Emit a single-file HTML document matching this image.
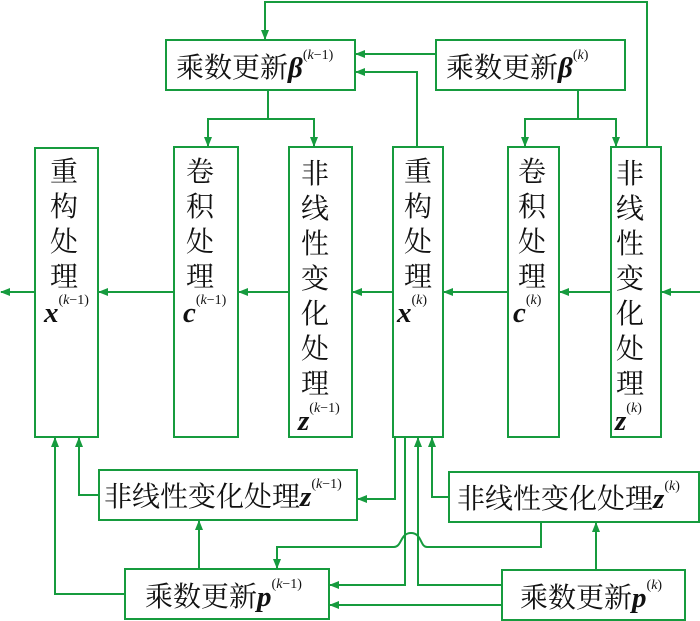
<!DOCTYPE html>
<html><head><meta charset="utf-8"><style>
html,body{margin:0;padding:0;background:#fff;}
svg{display:block;}
.t{font-family:"Liberation Serif","Noto Serif CJK SC","Noto Sans CJK SC",serif;font-size:28px;fill:#111;}
.m{font-family:"Liberation Serif",serif;font-weight:bold;font-style:italic;font-size:29px;fill:#111;}
.s{font-family:"Liberation Serif",serif;font-size:14px;font-weight:normal;font-style:normal;fill:#111;}
</style></head><body>
<svg width="700" height="621" viewBox="0 0 700 621" xmlns="http://www.w3.org/2000/svg">
<defs><marker id="a" markerWidth="10" markerHeight="8" refX="9" refY="4" orient="auto" markerUnits="userSpaceOnUse"><path d="M0,0 L10,4 L0,8 z" fill="#169b3e"/></marker></defs>
<g fill="none" stroke="#169b3e" stroke-width="2">
<rect x="166" y="40" width="189" height="50"/>
<rect x="436" y="40" width="189" height="50"/>
<rect x="35" y="148" width="63" height="289"/>
<rect x="174" y="147" width="64" height="290"/>
<rect x="289" y="147" width="63" height="290"/>
<rect x="393" y="147" width="50" height="290"/>
<rect x="508" y="147" width="51" height="290"/>
<rect x="611" y="147" width="50" height="290"/>
<rect x="99" y="470" width="258" height="50"/>
<rect x="449" y="472" width="250" height="50"/>
<rect x="125" y="569" width="204" height="50"/>
<rect x="502" y="570" width="183" height="50"/>
<path d="M647,147 V2 H265 V39" marker-end="url(#a)"/>
<path d="M436,54 H356" marker-end="url(#a)"/>
<path d="M417,147 V72 H356" marker-end="url(#a)"/>
<path d="M268,90 V119 H208 V146" marker-end="url(#a)"/>
<path d="M268,119 H314 V146" marker-end="url(#a)"/>
<path d="M578,90 V119 H525 V146" marker-end="url(#a)"/>
<path d="M578,119 H616 V146" marker-end="url(#a)"/>
<path d="M700,292 H662" marker-end="url(#a)"/>
<path d="M611,292 H560" marker-end="url(#a)"/>
<path d="M508,292 H444" marker-end="url(#a)"/>
<path d="M393,292 H353" marker-end="url(#a)"/>
<path d="M289,292 H239" marker-end="url(#a)"/>
<path d="M174,292 H99" marker-end="url(#a)"/>
<path d="M35,292 H1" marker-end="url(#a)"/>
<path d="M99,495 H79 V438" marker-end="url(#a)"/>
<path d="M125,594 H55 V438" marker-end="url(#a)"/>
<path d="M395,437 V499 H358" marker-end="url(#a)"/>
<path d="M405,437 V585 H330" marker-end="url(#a)"/>
<path d="M502,585 H418 V438" marker-end="url(#a)"/>
<path d="M449,497 H432 V438" marker-end="url(#a)"/>
<path d="M502,605 H330" marker-end="url(#a)"/>
<path d="M541,522 V547 H427 C420,547 422,533 411,533 C400,533 402,547 394,547 H277 V568" marker-end="url(#a)"/>
<path d="M199,569 V521" marker-end="url(#a)"/>
<path d="M596,570 V523" marker-end="url(#a)"/>
</g>
<text class="t" x="176" y="77">乘数更新<tspan class="m">β</tspan><tspan class="s" dy="-18">(<tspan font-style="italic">k</tspan>−1)</tspan></text>
<text class="t" x="446" y="77">乘数更新<tspan class="m">β</tspan><tspan class="s" dy="-18">(<tspan font-style="italic">k</tspan>)</tspan></text>
<g class="t" text-anchor="middle">
<text x="64" y="181">重</text><text x="64" y="216">构</text><text x="64" y="251">处</text><text x="64" y="286">理</text>
<text x="200" y="181">卷</text><text x="200" y="216">积</text><text x="200" y="251">处</text><text x="200" y="286">理</text>
<text x="315" y="183">非</text><text x="315" y="218">线</text><text x="315" y="253">性</text><text x="315" y="288">变</text><text x="315" y="323">化</text><text x="315" y="358">处</text><text x="315" y="393">理</text>
<text x="418" y="181">重</text><text x="418" y="216">构</text><text x="418" y="251">处</text><text x="418" y="286">理</text>
<text x="532" y="181">卷</text><text x="532" y="216">积</text><text x="532" y="251">处</text><text x="532" y="286">理</text>
<text x="630" y="183">非</text><text x="630" y="218">线</text><text x="630" y="253">性</text><text x="630" y="288">变</text><text x="630" y="323">化</text><text x="630" y="358">处</text><text x="630" y="393">理</text>
</g>
<text x="44" y="322"><tspan class="m">x</tspan><tspan class="s" dy="-18">(<tspan font-style="italic">k</tspan>−1)</tspan></text>
<text x="183" y="322"><tspan class="m">c</tspan><tspan class="s" dy="-18">(<tspan font-style="italic">k</tspan>−1)</tspan></text>
<text x="298" y="430"><tspan class="m">z</tspan><tspan class="s" dy="-18">(<tspan font-style="italic">k</tspan>−1)</tspan></text>
<text x="397" y="322"><tspan class="m">x</tspan><tspan class="s" dy="-18">(<tspan font-style="italic">k</tspan>)</tspan></text>
<text x="513" y="322"><tspan class="m">c</tspan><tspan class="s" dy="-18">(<tspan font-style="italic">k</tspan>)</tspan></text>
<text x="615" y="430"><tspan class="m">z</tspan><tspan class="s" dy="-18">(<tspan font-style="italic">k</tspan>)</tspan></text>
<text class="t" x="104" y="506">非线性变化处理<tspan class="m">z</tspan><tspan class="s" dy="-18">(<tspan font-style="italic">k</tspan>−1)</tspan></text>
<text class="t" x="457" y="508">非线性变化处理<tspan class="m">z</tspan><tspan class="s" dy="-18">(<tspan font-style="italic">k</tspan>)</tspan></text>
<text class="t" x="145" y="606">乘数更新<tspan class="m">p</tspan><tspan class="s" dy="-18">(<tspan font-style="italic">k</tspan>−1)</tspan></text>
<text class="t" x="520" y="607">乘数更新<tspan class="m">p</tspan><tspan class="s" dy="-18">(<tspan font-style="italic">k</tspan>)</tspan></text>
</svg>
</body></html>
